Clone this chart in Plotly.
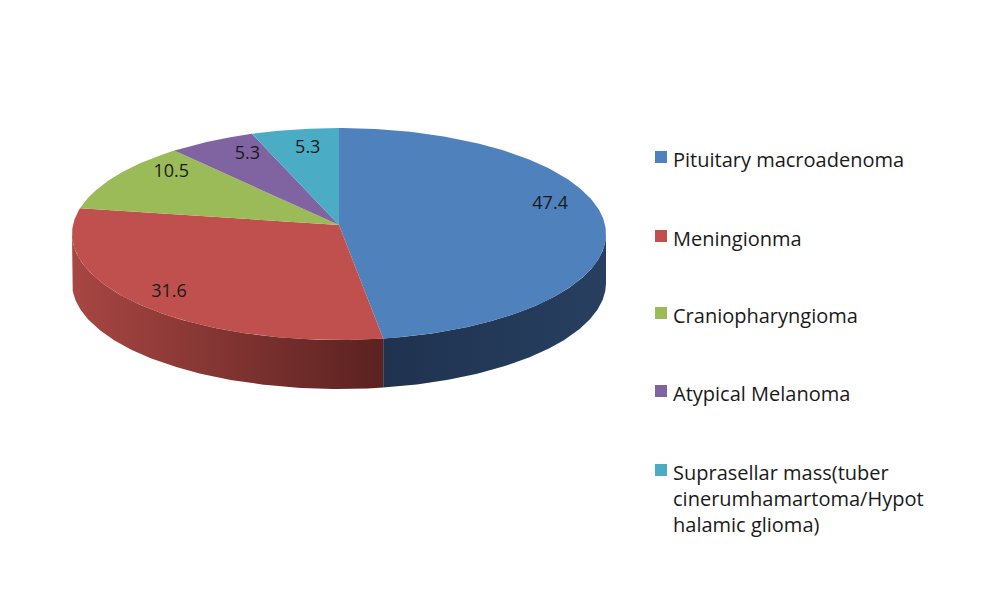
#!/usr/bin/env python
# coding: utf-8

"""
3D-style pie chart of sellar / suprasellar lesions, drawn with Plotly.
"""

import numpy as np
import plotly.graph_objects as go

# Data
labels = ['Pituitary macroadenoma', 'Meningionma', 'Craniopharyngioma',
          'Atypical Melanoma',
          'Suprasellar mass(tuber<br>cinerumhamartoma/Hypot<br>halamic glioma)']
values = [47.4, 31.6, 10.5, 5.3, 5.3]
value_text = ['47.4', '31.6', '10.5', '5.3', '5.3']

top_colors = ['#4F81BD', '#C0504D', '#9BBB59', '#8064A2', '#4BACC6']
side_colors = [('#1F3350', '#283F60'), ('#A84643', '#5A2220'),
               ('#88A44E', '#5D7234'), ('#6D5590', '#4A3A62'),
               ('#3E93AA', '#2A6675')]

# Geometry of the tilted disc (pixel space)
cx, cy = 339, 234      # centre of top ellipse
a, b = 267, 106        # half axes
depth = 49             # thickness of the disc
apex_y = 225           # where slices meet (slight perspective)
persp = 0.38           # perspective factor for label placement

FONT = 'Open Sans, Lato, sans-serif'


def ellipse_pt(theta, dy=0):
    # theta measured clockwise from 12 o'clock, radians
    return cx + a * np.sin(theta), cy - b * np.cos(theta) + dy


fracs = np.array(values) / np.sum(values)
bounds = np.concatenate([[0], np.cumsum(fracs)]) * 2 * np.pi

fig = go.Figure()

# Side walls (only the front half, pi/2 .. 3pi/2, is visible)
for i in range(len(values)):
    t0 = max(bounds[i], np.pi / 2)
    t1 = min(bounds[i + 1], 3 * np.pi / 2)
    if t1 <= t0:
        continue
    th = np.linspace(t0, t1, 120)
    xt, yt = ellipse_pt(th)
    xb, yb = ellipse_pt(th[::-1], depth)
    fig.add_trace(go.Scatter(
        x=np.concatenate([xt, xb, xt[:1]]), y=np.concatenate([yt, yb, yt[:1]]),
        mode='lines', fill='toself', line=dict(width=0),
        fillgradient=dict(type='horizontal',
                          colorscale=[[0, side_colors[i][0]], [1, side_colors[i][1]]]),
        hoverinfo='skip', showlegend=False))

# Top faces
for i in range(len(values)):
    th = np.linspace(bounds[i], bounds[i + 1], 200)
    xs, ys = ellipse_pt(th)
    fig.add_trace(go.Scatter(
        x=np.concatenate([[cx], xs, [cx]]), y=np.concatenate([[apex_y], ys, [apex_y]]),
        mode='lines', fill='toself', fillcolor=top_colors[i],
        line=dict(width=0), hoverinfo='text', text=labels[i], showlegend=False))

# Value labels, placed inside each slice with a bit of perspective
mids = (bounds[:-1] + bounds[1:]) / 2
c = np.cos(mids)
lx = cx + 214 * (1 - 0.12 * c) * np.sin(mids)
ly = apex_y - 13 - 88 * c / (1 + persp * c)
fig.add_trace(go.Scatter(
    x=lx, y=ly, mode='text', text=value_text,
    textfont=dict(family=FONT, size=18, color='#1a1a1a'),
    hoverinfo='skip', showlegend=False))

# Legend (manual, to match the spacing of the original)
leg_y = [157, 236, 313, 391, 470]
fig.add_trace(go.Scatter(
    x=[661] * len(leg_y), y=leg_y, mode='markers',
    marker=dict(symbol='square', size=12, color=top_colors),
    hoverinfo='skip', showlegend=False))
for yy, lab in zip(leg_y, labels):
    fig.add_annotation(x=671, y=yy, text=lab, showarrow=False,
                       xanchor='left', yanchor='top', yshift=13, align='left',
                       font=dict(family=FONT, size=20, color='#1a1a1a'))

# The page body has an 8px margin, so the axis ranges are offset by it
fig.update_layout(
    width=1000, height=607,
    margin=dict(l=0, r=0, t=0, b=0),
    paper_bgcolor='white', plot_bgcolor='white',
    xaxis=dict(range=[8, 1008], visible=False, fixedrange=True),
    yaxis=dict(range=[615, 8], visible=False, fixedrange=True),
)

fig.write_html("out.html")
